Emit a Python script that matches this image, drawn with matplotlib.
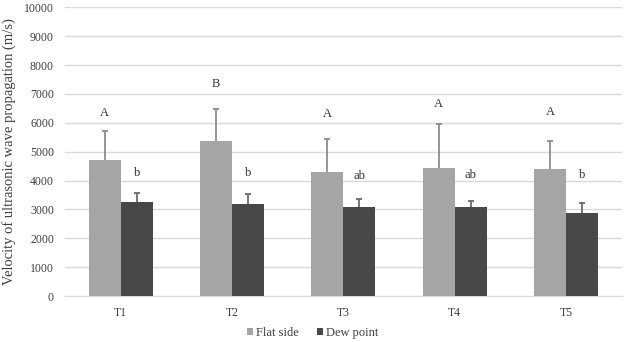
import matplotlib.pyplot as plt
import numpy as np

plt.rcParams['font.family'] = ['Liberation Serif', 'DejaVu Serif']

categories = ["T1", "T2", "T3", "T4", "T5"]
flat_side = [4700, 5360, 4290, 4440, 4400]
flat_err = [1030, 1130, 1160, 1510, 970]
dew_point = [3250, 3170, 3095, 3070, 2890]
dew_err = [310, 380, 270, 230, 330]
flat_letters = ["A", "B", "A", "A", "A"]
flat_letter_y = [6340, 7340, 6300, 6650, 6380]
dew_letters = ["b", "b", "ab", "ab", "b"]
dew_letter_y = [4250, 4250, 4160, 4180, 4200]

fig = plt.figure(figsize=(6.25, 3.42), dpi=100)
ax = fig.add_axes([0.104, 0.1345, 0.891, 0.844])

x = np.arange(len(categories))
w = 0.287
c1 = "#a5a5a5"
c2 = "#484848"
ax.bar(x - w / 2, flat_side, w, color=c1, label="Flat side", zorder=3)
ax.bar(x + w / 2, dew_point, w, color=c2, label="Dew point", zorder=3)
for xs, ys, es, ec in [(x - w / 2, flat_side, flat_err, "#8c8c8c"),
                       (x + w / 2, dew_point, dew_err, "#6a6a6a")]:
    eb = ax.errorbar(xs, ys, yerr=[np.zeros(5), es], fmt="none", ecolor=ec,
                     elinewidth=1.3, capsize=2.5, capthick=1.3, zorder=4)
    eb[1][0].set_visible(False)  # hide bottom caps

for i in range(len(categories)):
    ax.text(x[i] - w / 2, flat_letter_y[i], flat_letters[i], ha="center", va="center",
            fontsize=9, color="#333333")
    ax.text(x[i] + w / 2, dew_letter_y[i], dew_letters[i], ha="center", va="center",
            fontsize=9, color="#333333")

ax.set_xlim(-0.5, len(categories) - 0.5)
ax.set_ylim(0, 10000)
ax.set_yticks(np.arange(0, 10001, 1000))
ax.set_xticks(x)
ax.set_xticklabels(categories)
ax.yaxis.grid(True, color="#d9d9d9", linewidth=1, zorder=0)
for s in ["top", "right", "left"]:
    ax.spines[s].set_visible(False)
ax.spines["bottom"].set_color("#d9d9d9")
ax.tick_params(axis="both", length=0, labelsize=8.5, colors="#404040")
ax.tick_params(axis="x", pad=8)
ax.tick_params(axis="y", pad=8)
ax.set_ylabel("Velocity of ultrasonic wave propagation (m/s)", fontsize=10.5, color="#404040")
ax.yaxis.set_label_coords(-0.088, 0.5)

fig.legend(loc="center", bbox_to_anchor=(0.5, 0.026), ncol=2, frameon=False,
           fontsize=9, handlelength=0.5, handleheight=0.5, handletextpad=0.2,
           columnspacing=1.5, labelcolor="#404040", borderpad=0.1)

fig.savefig("out.png", dpi=100)
